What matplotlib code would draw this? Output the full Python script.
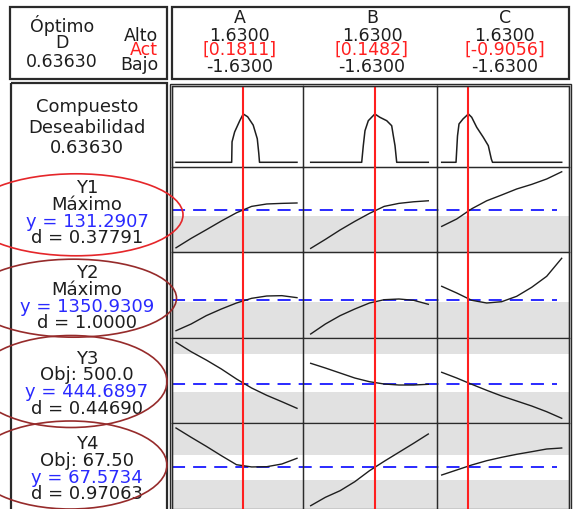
import matplotlib.pyplot as plt
from matplotlib.patches import Ellipse, Rectangle

plt.rcParams['font.family'] = ['DejaVu Sans']
plt.rcParams['lines.scale_dashes'] = False

# ───────────────────────────── optimizer data ─────────────────────────────
FACTORS = ['A', 'B', 'C']
HIGH = [1.63, 1.63, 1.63]
LOW = [-1.63, -1.63, -1.63]
CURRENT = [0.1811, 0.1482, -0.9056]
OPTIMAL_D = 0.63630

RESPONSES = ['Y1', 'Y2', 'Y3', 'Y4']
GOALS = ['Máximo', 'Máximo', 'Obj: 500.0', 'Obj: 67.50']
PREDICTED = [131.2907, 1350.9309, 444.6897, 67.5734]
DESIRABILITY = ['0.37791', '1.0000', '0.44690', '0.97063']

# acceptable range of each response (outside it is shaded)
BAND_LO = [128.1, 1339.4, 400.0, 65.0]
BAND_HI = [None, None, 600.0, 70.0]

# response traces over each factor, other factors held at the optimum
FACTOR_X = [-1.63, -1.2225, -0.815, -0.4075, 0.0, 0.4075, 0.815, 1.2225, 1.63]

Y1_A = [112.4, 117.1, 121.4, 125.8, 129.9, 133.1, 134.3, 134.6, 134.8]
Y1_B = [112.1, 116.6, 121.3, 125.6, 129.6, 133.1, 134.6, 135.4, 135.9]
Y1_C = [123.1, 126.8, 131.9, 135.9, 138.8, 141.8, 144.1, 146.8, 150.4]

Y2_A = [1197.4, 1230.9, 1272.6, 1305.9, 1335.9, 1359.3, 1370.9, 1372.6, 1362.6]
Y2_B = [1180.9, 1230.9, 1272.6, 1305.9, 1335.9, 1352.4, 1355.9, 1349.4, 1329.4]
Y2_C = [1419.4, 1385.9, 1349.4, 1335.9, 1342.4, 1369.4, 1414.4, 1469.4, 1559.4]

Y3_A = [661.0, 611.9, 568.6, 521.6, 469.4, 422.4, 384.3, 350.9, 316.5]
Y3_B = [551.4, 526.8, 500.7, 474.6, 455.3, 443.3, 438.1, 438.1, 441.8]
Y3_C = [504.4, 474.6, 441.8, 410.4, 380.7, 354.6, 328.5, 298.7, 264.3]

Y4_A = [75.34, 73.48, 71.68, 69.80, 68.00, 67.55, 67.60, 68.14, 69.28]
Y4_B = [59.80, 61.48, 62.80, 64.60, 66.80, 68.68, 70.48, 72.28, 74.14]
Y4_C = [65.94, 66.94, 67.94, 68.80, 69.48, 70.08, 70.60, 71.14, 71.34]

RESPONSE_CURVES = [
    [Y1_A, Y1_B, Y1_C],
    [Y2_A, Y2_B, Y2_C],
    [Y3_A, Y3_B, Y3_C],
    [Y4_A, Y4_B, Y4_C],
]

# composite desirability traces
COMP_X_A = [-1.63, -0.13, -0.12, -0.05, 0.09, 0.1811, 0.30, 0.45, 0.56, 0.60, 0.62, 1.63]
COMP_D_A = [0, 0, 0.27, 0.40, 0.55, 0.6363, 0.60, 0.49, 0.31, 0.12, 0, 0]
COMP_X_B = [-1.63, -0.216, -0.172, -0.125, -0.033, 0.1482, 0.287, 0.477, 0.615, 0.66, 0.707, 0.754, 1.63]
COMP_D_B = [0, 0, 0.219, 0.416, 0.548, 0.6363, 0.593, 0.548, 0.482, 0.35, 0.219, 0, 0]
COMP_X_C = [-1.63, -1.241, -1.201, -1.16, -1.051, -0.9056, -0.815, -0.679, -0.5, -0.364, -0.282, -0.25, 1.63]
COMP_D_C = [0, 0, 0.347, 0.505, 0.571, 0.6363, 0.593, 0.461, 0.329, 0.219, 0.043, 0, 0]

COMP_X = [COMP_X_A, COMP_X_B, COMP_X_C]
COMP_D = [COMP_D_A, COMP_D_B, COMP_D_C]

# ───────────────────────────── layout (pixels) ─────────────────────────────
W, H = 575, 510
COL_EDGES = [172, 303, 437, 568.5]
ROW_EDGES = [86.7, 168.3, 253.3, 338.5, 424.3, 510]
X_PAD = [(0.108, 0.162), (0.213, 0.241), (0.128, 0.185)]
ROW_YLIM = [(-0.066, 1.009), (110.14, 152.64), (1163.4, 1589.4),
            (238.2, 686.1), (59.14, 76.28)]

INK = '#1e1e1e'
RED = '#ff1f1f'
BLUE = '#2a2aff'
SHADE = '#e1e1e1'
FS = 13
FS_HEAD = 12.5

fig = plt.figure(figsize=(W / 100, H / 100), dpi=100)
fig.patch.set_facecolor('white')


def px_axes(x0, y0, x1, y1, **kw):
    return fig.add_axes([x0 / W, 1 - y1 / H, (x1 - x0) / W, (y1 - y0) / H], **kw)


def cell_axes(row, col):
    ax = px_axes(COL_EDGES[col], ROW_EDGES[row], COL_EDGES[col + 1], ROW_EDGES[row + 1])
    ax.set_facecolor('none')
    ax.set_xlim(LOW[col] - X_PAD[col][0], HIGH[col] + X_PAD[col][1])
    ax.set_ylim(*ROW_YLIM[row])
    ax.set_xticks([])
    ax.set_yticks([])
    for sp in ax.spines.values():
        sp.set_linewidth(0.9)
        sp.set_color('#2a2a2a')
    ax.axvline(CURRENT[col], color=RED, lw=1.5, zorder=3)
    return ax


# composite desirability row
for c in range(3):
    ax = cell_axes(0, c)
    ax.plot(COMP_X[c], COMP_D[c], color=INK, lw=1.1, zorder=2)

# response rows: shaded band + predicted level across the row, then traces per factor
for r in range(4):
    row = r + 1
    bg = px_axes(COL_EDGES[0], ROW_EDGES[row], COL_EDGES[-1], ROW_EDGES[row + 1])
    bg.set_xlim(0, 1)
    bg.set_ylim(*ROW_YLIM[row])
    bg.axis('off')
    bg.axhspan(ROW_YLIM[row][0], BAND_LO[r], color=SHADE, lw=0)
    if BAND_HI[r] is not None:
        bg.axhspan(BAND_HI[r], ROW_YLIM[row][1], color=SHADE, lw=0)
    bg.plot([0, 0.971], [PREDICTED[r], PREDICTED[r]], color=BLUE, lw=1.4,
            dashes=(9.4, 5.8), zorder=4)
    for c in range(3):
        ax = cell_axes(row, c)
        ax.plot(FACTOR_X, RESPONSE_CURVES[r][c], color=INK, lw=1.0, zorder=2)

# left column texts, clipped to their panel
left = px_axes(12.7, 84, 166.7, 510)
left.set_xlim(12.7, 166.7)
left.set_ylim(510, 84)
left.axis('off')
cx = 87
left.text(cx, 111.7, 'Compuesto', ha='center', va='baseline', fontsize=FS, color=INK)
left.text(cx, 132.7, 'Deseabilidad', ha='center', va='baseline', fontsize=FS, color=INK)
left.text(cx, 152.7, f'{OPTIMAL_D:.5f}', ha='center', va='baseline', fontsize=FS, color=INK)
for r in range(4):
    base = ROW_EDGES[r + 1] + 25
    lines = [(RESPONSES[r], INK), (GOALS[r], INK),
             (f'y = {PREDICTED[r]:.4f}', BLUE), (f'd = {DESIRABILITY[r]}', INK)]
    for k, (s, col) in enumerate(lines):
        left.text(cx, base + 16.7 * k, s, ha='center', va='baseline',
                  fontsize=FS, color=col, clip_on=True)

# overlay in pixel coordinates: frames, header and circled annotations
ov = fig.add_axes([0, 0, 1, 1], zorder=10)
ov.set_xlim(0, W)
ov.set_ylim(H, 0)
ov.axis('off')

frame = dict(fill=False, ec='#2a2a2a', clip_on=False)
ov.add_patch(Rectangle((10, 8), 157, 72, lw=1.6, **frame))
ov.add_patch(Rectangle((172, 8), 397, 72, lw=1.6, **frame))
ov.add_patch(Rectangle((10.5, 84), 156.5, 440, lw=1.6, **frame))
ov.add_patch(Rectangle((170, 84.8), 401, 440, lw=1.0, **frame))
ov.add_patch(Rectangle((172.3, 87), 396.2, 440, lw=1.0, **frame))

ov.text(62, 31.7, 'Óptimo', ha='center', va='baseline', fontsize=FS_HEAD, color=INK)
ov.text(62, 48.3, 'D', ha='center', va='baseline', fontsize=FS_HEAD, color=INK)
ov.text(62, 66.7, f'{OPTIMAL_D:.5f}', ha='center', va='baseline', fontsize=FS_HEAD, color=INK)
ov.text(158, 41.2, 'Alto', ha='right', va='baseline', fontsize=FS_HEAD, color=INK)
ov.text(158, 55, 'Act', ha='right', va='baseline', fontsize=FS_HEAD, color=RED)
ov.text(158, 69.5, 'Bajo', ha='right', va='baseline', fontsize=FS_HEAD, color=INK)

for c in range(3):
    x = (COL_EDGES[c] + COL_EDGES[c + 1]) / 2 + 2
    ov.text(x, 23.3, FACTORS[c], ha='center', va='baseline', fontsize=FS_HEAD, color=INK)
    ov.text(x, 41.2, f'{HIGH[c]:.4f}', ha='center', va='baseline', fontsize=FS_HEAD, color=INK)
    ov.text(x, 55, f'[{CURRENT[c]:.4f}]', ha='center', va='baseline', fontsize=FS_HEAD, color=RED)
    ov.text(x, 71.5, f'{LOW[c]:.4f}', ha='center', va='baseline', fontsize=FS_HEAD, color=INK)

ring = dict(fill=False, lw=1.2, clip_on=True)
ov.add_patch(Ellipse((76, 215.8), 214, 82, ec='#e5262a', **ring))
ov.add_patch(Ellipse((73.5, 299.2), 206, 78, ec='#962b2b', **ring))
ov.add_patch(Ellipse((71, 382.5), 192, 92, ec='#962b2b', **ring))
ov.add_patch(Ellipse((70.4, 466), 193, 88, ec='#962b2b', **ring))

fig.savefig('out.png', dpi=100, facecolor='white')
